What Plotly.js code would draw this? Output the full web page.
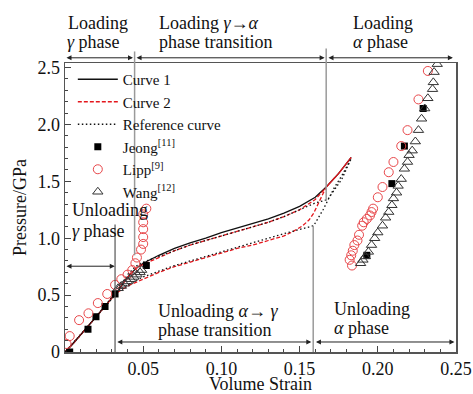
<!DOCTYPE html>
<html>
<head>
<meta charset="utf-8">
<script src="https://cdn.plot.ly/plotly-3.0.1.min.js"></script>
<style>html,body{margin:0;padding:0;background:#fff;}#chart{width:473px;height:394px;}</style>
</head>
<body>
<div id="chart"></div>
<script>
// ---- data ----
const curve1X = [0, 0.005, 0.01, 0.015, 0.02, 0.025, 0.03, 0.034, 0.038, 0.042, 0.046, 0.05, 0.06, 0.07, 0.08, 0.09, 0.10, 0.11, 0.12, 0.13, 0.14, 0.15, 0.16, 0.167, 0.175, 0.183];
const curve1Y = [0, 0.07, 0.15, 0.23, 0.31, 0.39, 0.47, 0.54, 0.62, 0.69, 0.74, 0.78, 0.85, 0.91, 0.96, 1.00, 1.05, 1.09, 1.13, 1.17, 1.22, 1.28, 1.36, 1.45, 1.57, 1.71];

const curve2X = [0, 0.005, 0.01, 0.015, 0.02, 0.025, 0.03, 0.034, 0.038, 0.042, 0.046, 0.05, 0.06, 0.07, 0.08, 0.09, 0.10, 0.11, 0.12, 0.13, 0.14, 0.15, 0.16, 0.167, 0.175, 0.183,
                 0.175, 0.167, 0.165, 0.162, 0.159, 0.156, 0.152, 0.146, 0.14, 0.13, 0.12, 0.11, 0.10, 0.09, 0.08, 0.07, 0.06, 0.05, 0.04, 0.032, 0.025, 0.015, 0.005, 0];
const curve2Y = [0, 0.07, 0.15, 0.23, 0.31, 0.39, 0.47, 0.54, 0.62, 0.69, 0.74, 0.77, 0.83, 0.89, 0.94, 0.98, 1.02, 1.06, 1.10, 1.14, 1.19, 1.25, 1.34, 1.45, 1.57, 1.71,
                 1.57, 1.45, 1.39, 1.30, 1.22, 1.16, 1.11, 1.06, 1.02, 0.98, 0.94, 0.91, 0.87, 0.83, 0.79, 0.75, 0.70, 0.64, 0.58, 0.51, 0.39, 0.23, 0.07, 0];

const refX = [0, 0.01, 0.02, 0.032, 0.04, 0.045, 0.05, 0.06, 0.07, 0.08, 0.09, 0.10, 0.11, 0.12, 0.13, 0.14, 0.15, 0.16, 0.168, 0.177, 0.183,
              0.177, 0.172, 0.165, 0.159, 0.15, 0.14, 0.13, 0.12, 0.11, 0.10, 0.09, 0.08, 0.07, 0.06, 0.05, 0.04, 0.032, 0.02, 0.01, 0];
const refY = [0, 0.15, 0.31, 0.50, 0.68, 0.75, 0.79, 0.84, 0.89, 0.94, 0.98, 1.02, 1.06, 1.10, 1.14, 1.19, 1.25, 1.31, 1.34, 1.52, 1.70,
              1.55, 1.44, 1.25, 1.11, 1.08, 1.04, 1.00, 0.96, 0.92, 0.88, 0.84, 0.80, 0.76, 0.71, 0.66, 0.59, 0.52, 0.31, 0.15, 0];

const jeongX = [0.003, 0.0147, 0.0198, 0.0256, 0.032, 0.052, 0.193, 0.209, 0.217, 0.229];
const jeongY = [0.0, 0.20, 0.31, 0.40, 0.51, 0.76, 0.85, 1.48, 1.81, 2.14];

const lippX = [0.001, 0.003, 0.009, 0.015, 0.021, 0.027, 0.032, 0.036, 0.040, 0.043, 0.045, 0.046, 0.0486, 0.050, 0.050, 0.050, 0.050, 0.050, 0.052,
               0.1835, 0.182, 0.183, 0.184, 0.185, 0.187, 0.188, 0.190, 0.191, 0.193, 0.195, 0.196, 0.197, 0.200, 0.203, 0.207, 0.210, 0.215, 0.219, 0.226, 0.232];
const lippY = [0.07, 0.14, 0.28, 0.34, 0.43, 0.51, 0.59, 0.64, 0.68, 0.72, 0.78, 0.83, 0.90, 0.95, 1.01, 1.08, 1.14, 1.21, 1.26,
               0.76, 0.81, 0.85, 0.89, 0.94, 0.98, 1.03, 1.11, 1.14, 1.17, 1.20, 1.23, 1.26, 1.36, 1.45, 1.58, 1.67, 1.81, 1.95, 2.22, 2.47];

const wangX = [0.034, 0.036, 0.038, 0.040, 0.042, 0.044, 0.046, 0.048, 0.049,
               0.189, 0.1905, 0.192, 0.194, 0.196, 0.198, 0.200, 0.203, 0.205, 0.207, 0.209, 0.210, 0.212, 0.213, 0.215, 0.217, 0.219, 0.220, 0.222, 0.224, 0.226, 0.228, 0.230, 0.232, 0.235, 0.2355, 0.236, 0.238];
const wangY = [0.56, 0.58, 0.60, 0.62, 0.64, 0.66, 0.68, 0.70, 0.72,
               0.78, 0.81, 0.84, 0.88, 0.94, 1.00, 1.05, 1.11, 1.18, 1.23, 1.29, 1.35, 1.40, 1.46, 1.52, 1.61, 1.67, 1.73, 1.77, 1.85, 1.95, 2.05, 2.14, 2.23, 2.31, 2.37, 2.46, 2.53];

// ---- chart ----
const FONT = 'Liberation Serif, Times New Roman, serif';
const traces = [
  {x: curve1X, y: curve1Y, name: 'Curve 1', mode: 'lines', line: {color: '#111', width: 1.3}},
  {x: curve2X, y: curve2Y, name: 'Curve 2', mode: 'lines', line: {color: '#e4161c', width: 1.3, dash: '4px,2px'}},
  {x: refX, y: refY, name: 'Reference curve', mode: 'lines', line: {color: '#111', width: 1.3, dash: '1.5px,2.5px'}},
  {x: jeongX, y: jeongY, name: 'Jeong<sup>[11]</sup>', mode: 'markers', marker: {symbol: 'square', size: 7, color: '#000'}},
  {x: lippX, y: lippY, name: 'Lipp<sup>[9]</sup>', mode: 'markers', marker: {symbol: 'circle-open', size: 9, color: '#e8474a', line: {width: 1}}},
  {x: wangX, y: wangY, name: 'Wang<sup>[12]</sup>', mode: 'markers', marker: {symbol: 'triangle-up-open', size: 9, color: '#333', line: {width: 1}}}
];

const grey = '#9a9a9a';
function arrow(x0, x1, y, yref) {
  return {xref: 'x', yref: yref, x: x1, y: y, axref: 'x', ayref: 'pixel', ax: x0, ay: 0, text: '',
          showarrow: true, arrowhead: 2, arrowside: 'end+start', arrowsize: 1, arrowwidth: 1, arrowcolor: '#222', standoff: 0, startstandoff: 0};
}
function label(text, x, y, ref) {
  return {xref: 'x', yref: ref, x: x, y: y, text: text, showarrow: false, xanchor: 'left', yanchor: 'middle',
          font: {family: FONT, size: 18, color: '#111'}};
}

const annotations = [
  arrow(0, 0.0435, 1.018, 'paper'), arrow(0.0448, 0.166, 1.018, 'paper'), arrow(0.1675, 0.248, 1.018, 'paper'),
  arrow(0, 0.0318, 0.754, 'y'),
  arrow(0.0325, 0.1575, 0.088, 'y'), arrow(0.1595, 0.249, 0.088, 'y'),
  label('Loading', 0.0008, 1.138, 'paper'),
  label('<i>γ</i> phase', 0.0, 1.073, 'paper'),
  label('Loading <i>γ</i>→<i>α</i>', 0.059, 1.138, 'paper'),
  label('phase transition', 0.059, 1.073, 'paper'),
  label('Loading', 0.183, 1.138, 'paper'),
  label('<i>α</i> phase', 0.183, 1.073, 'paper'),
  label('Unloading', 0.003, 1.245, 'y'),
  label('<i>γ</i> phase', 0.003, 1.06, 'y'),
  label('Unloading <i>α</i>→ <i>γ</i>', 0.058, 0.36, 'y'),
  label('phase transition', 0.058, 0.19, 'y'),
  label('Unloading', 0.171, 0.38, 'y'),
  label('<i>α</i> phase', 0.171, 0.21, 'y')
];

const shapes = [
  {type: 'line', xref: 'x', yref: 'paper', x0: 0.0445, x1: 0.0445, y0: 1.0, y1: 1.04, line: {color: grey, width: 1.5}},
  {type: 'line', xref: 'x', yref: 'y', x0: 0.0445, x1: 0.0445, y0: 0.85, y1: 2.54, line: {color: grey, width: 1.5}},
  {type: 'line', xref: 'x', yref: 'paper', x0: 0.167, x1: 0.167, y0: 1.0, y1: 1.05, line: {color: grey, width: 1.5}},
  {type: 'line', xref: 'x', yref: 'y', x0: 0.167, x1: 0.167, y0: 1.33, y1: 2.54, line: {color: grey, width: 1.5}},
  {type: 'line', xref: 'x', yref: 'y', x0: 0.032, x1: 0.032, y0: 0, y1: 1.12, line: {color: '#555', width: 1.2}},
  {type: 'line', xref: 'x', yref: 'y', x0: 0.1587, x1: 0.1587, y0: 0, y1: 1.11, line: {color: grey, width: 1.5}}
];

const axisCommon = {
  showgrid: false, zeroline: false, showline: true, linecolor: '#555', linewidth: 1.5, mirror: true,
  ticks: 'inside', ticklen: 6, tickwidth: 1, tickcolor: '#444',
  tickfont: {family: FONT, size: 18, color: '#111'}
};

const layout = {
  width: 473, height: 394,
  margin: {l: 65, r: 17, t: 63, b: 42},
  paper_bgcolor: '#fff', plot_bgcolor: '#fff',
  font: {family: FONT, color: '#111'},
  showlegend: true,
  legend: {x: 0.02, y: 1.0, xanchor: 'left', yanchor: 'top', bgcolor: 'rgba(0,0,0,0)',
           font: {family: FONT, size: 15, color: '#111'}, itemwidth: 40, tracegroupgap: 0},
  xaxis: Object.assign({}, axisCommon, {
    range: [0, 0.25],
    tickmode: 'array', tickvals: [0.05, 0.10, 0.15, 0.20, 0.25], ticktext: ['0.05', '0.10', '0.15', '0.20', '0.25'],
    ticklabelstandoff: 0,
    minor: {tickmode: 'linear', tick0: 0, dtick: 0.01, ticks: 'inside', ticklen: 3, tickcolor: '#444'},
    title: {text: 'Volume Strain', font: {family: FONT, size: 18, color: '#111'}, standoff: 9}
  }),
  yaxis: Object.assign({}, axisCommon, {
    range: [0, 2.54],
    tickmode: 'array', tickvals: [0, 0.5, 1.0, 1.5, 2.0, 2.5], ticktext: ['0', '0.5', '1.0', '1.5', '2.0', '2.5'],
    minor: {tickmode: 'linear', tick0: 0, dtick: 0.1, ticks: 'inside', ticklen: 3, tickcolor: '#444'},
    title: {text: 'Pressure/GPa', font: {family: FONT, size: 18, color: '#111'}, standoff: 6}
  }),
  shapes: shapes,
  annotations: annotations
};

Plotly.newPlot('chart', traces, layout, {displayModeBar: false, staticPlot: true});
</script>
</body>
</html>
